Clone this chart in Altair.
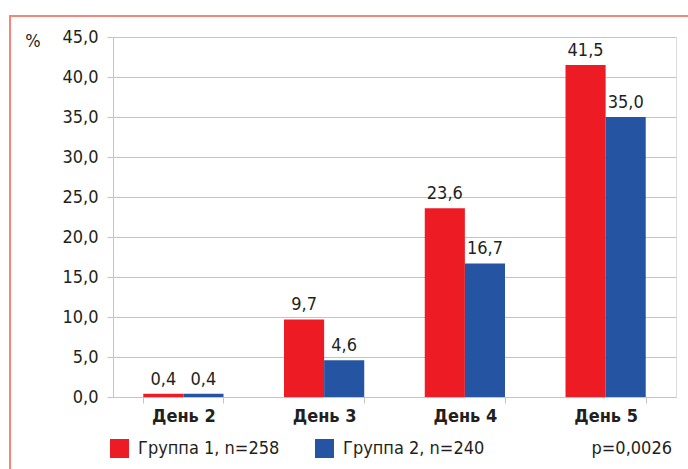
import altair as alt
import pandas as pd

days = ["День 2", "День 3", "День 4", "День 5"]
groups = ["Группа 1, n=258", "Группа 2, n=240"]
group1 = [0.4, 9.7, 23.6, 41.5]
group2 = [0.4, 4.6, 16.7, 35.0]
colors = ["#ED1C24", "#2454A2"]
y_ticks = [0, 5, 10, 15, 20, 25, 30, 35, 40, 45]
p_text = "p=0,0026"
unit = "%"

rows = []
for i, d in enumerate(days):
    rows.append({"day": d, "group": groups[0], "value": group1[i]})
    rows.append({"day": d, "group": groups[1], "value": group2[i]})
df = pd.DataFrame(rows)

FONT = "DejaVu Sans Condensed, Roboto, sans-serif"
FS = 18
W, H = 563, 360

base = alt.Chart(df).encode(
    x=alt.X("day:N", sort=days,
            scale=alt.Scale(paddingInner=0.43, paddingOuter=0.215),
            axis=alt.Axis(title=None, labelAngle=0, labelFont=FONT, labelFontSize=FS,
                          labelFontWeight="bold", labelColor="#231f20", labelPadding=4,
                          domainColor="#c4c4c4", tickColor="#c4c4c4", tickSize=6,
                          tickBand="extent", grid=False)),
    xOffset=alt.XOffset("group:N", sort=groups),
    y=alt.Y("value:Q", scale=alt.Scale(domain=[0, 45], nice=False),
            axis=alt.Axis(title=None, values=y_ticks, labelFont=FONT, labelFontSize=FS,
                          labelColor="#231f20", labelPadding=9, labelOverlap=False,
                          labelExpr="replace(format(datum.value, '.1f'), '.', ',')",
                          domainColor="#c4c4c4", tickColor="#c4c4c4", tickSize=6,
                          gridColor="#c4c4c4", gridWidth=1)),
)

bars = base.mark_bar().encode(
    color=alt.Color("group:N", sort=groups,
                    scale=alt.Scale(domain=groups, range=colors),
                    legend=alt.Legend(title=None, orient="none", legendX=-3, legendY=402,
                                      direction="horizontal", symbolType="square",
                                      symbolSize=361, symbolStrokeWidth=0,
                                      labelFont=FONT, labelFontSize=FS, labelColor="#231f20",
                                      labelOffset=9, columnPadding=35, gridAlign="all",
                                      labelLimit=300)),
)

labels = base.transform_calculate(
    lab="replace(format(datum.value, '.1f'), '.', ',')"
).mark_text(baseline="bottom", dy=-5, font=FONT, fontSize=FS, color="#231f20").encode(
    text="lab:N",
)

pct = alt.Chart(pd.DataFrame({"t": [unit]})).mark_text(
    font=FONT, fontSize=FS, color="#231f20", align="center", baseline="middle"
).encode(x=alt.value(-80), y=alt.value(5), text="t:N")

ptxt = alt.Chart(pd.DataFrame({"t": [p_text]})).mark_text(
    font=FONT, fontSize=FS, color="#231f20", align="right", baseline="middle"
).encode(x=alt.value(559), y=alt.value(412), text="t:N")

border_top = alt.Chart(pd.DataFrame({"a": [0]})).mark_rule(color="#F5857A", strokeWidth=2).encode(
    x=alt.value(-104), x2=alt.value(W + 20), y=alt.value(-21))
border_left = alt.Chart(pd.DataFrame({"a": [0]})).mark_rule(color="#F5857A", strokeWidth=2).encode(
    x=alt.value(-103), y=alt.value(-22), y2=alt.value(H + 80))

chart = alt.layer(border_top, border_left, bars, labels, pct, ptxt).properties(
    width=W, height=H,
    padding={"left": 113, "top": 37, "right": 12, "bottom": 72},
    autosize=alt.AutoSizeParams(type="none"),
).configure_view(stroke=None).configure(background="white")

chart.save("out.html", embed_options={"renderer": "svg", "actions": False})
